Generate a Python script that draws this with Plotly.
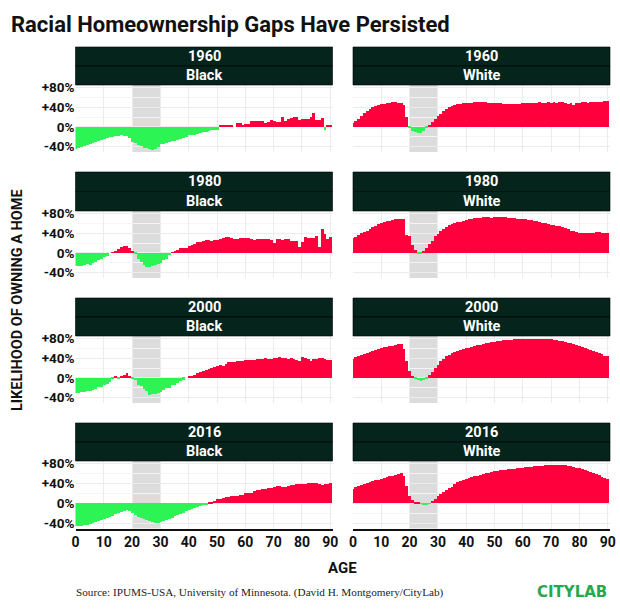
import plotly.graph_objects as go

W, H = 620, 611

ages = list(range(0, 91))
years = ["1960", "1980", "2000", "2016"]
races = ["Black", "White"]
x_ticks = [0, 10, 20, 30, 40, 50, 60, 70, 80, 90]
y_ticks = [-40, 0, 40, 80]
y_labels = ["-40%", "0%", "+40%", "+80%"]
band = [20, 30]

black_1960 = [-44, -42, -41, -38, -36, -35, -33, -30, -29, -27,
              -25, -23, -21, -20, -19, -18, -17, -18, -19, -22,
              -31, -33, -37, -39, -42, -43, -45, -46, -45, -41,
              -35, -34, -32, -31, -29, -28, -27, -25, -22, -20,
              -17, -16, -16, -14, -13, -11, -11, -8, -6, -7,
              -6, 3, 2, 3, 3, 4, 0, 7, 7, 4,
              5, 5, 12, 12, 12, 12, 12, 8, 9, 14,
              12, 10, 10, 20, 11, 15, 19, 20, 20, 14,
              15, 17, 15, 21, 28, 14, 14, 18, -6, 4, 4]
white_1960 = [7, 12, 16, 22, 28, 33, 37, 40, 43, 45,
              46, 47, 48, 49, 50, 50, 49, 48, 45, 20,
              -2, -8, -11, -13, -12, -8, -2, 4, 10, 17,
              22, 27, 32, 37, 40, 43, 45, 46, 47, 48,
              48, 49, 49, 50, 50, 50, 50, 50, 49, 49,
              49, 48, 48, 47, 47, 47, 47, 46, 47, 47,
              48, 48, 48, 49, 49, 48, 50, 49, 49, 50,
              49, 50, 49, 50, 50, 49, 47, 48, 45, 49,
              49, 50, 50, 49, 50, 51, 51, 50, 51, 52, 52]
black_1980 = [-27, -27, -26, -24, -22, -24, -21, -19, -15, -12,
              -9, -6, 0, 1, 4, 8, 12, 13, 14, 9,
              2, -3, -12, -18, -24, -28, -28, -26, -25, -22,
              -20, -14, -12, -5, 1, 2, 5, 10, 9, 9,
              13, 16, 18, 23, 23, 25, 26, 26, 25, 27,
              26, 28, 31, 32, 32, 30, 28, 29, 30, 31,
              30, 30, 29, 27, 28, 29, 29, 28, 28, 26,
              21, 29, 28, 27, 28, 29, 25, 24, 24, 12,
              22, 33, 31, 31, 31, 35, 12, 48, 38, 28, 33]
white_1980 = [30, 33, 36, 40, 43, 45, 49, 52, 55, 58,
              61, 62, 64, 65, 67, 68, 69, 69, 68, 36,
              35, 17, 5, -1, -1, 3, 10, 19, 24, 35,
              38, 44, 49, 53, 56, 58, 60, 62, 63, 65,
              66, 68, 69, 70, 70, 71, 72, 72, 72, 71,
              72, 72, 72, 73, 72, 71, 70, 70, 69, 69,
              69, 68, 67, 66, 65, 64, 62, 61, 60, 59,
              57, 56, 55, 54, 52, 50, 48, 45, 44, 42,
              41, 41, 40, 41, 41, 41, 42, 42, 41, 40, 40]
black_2000 = [-30, -30, -29, -28, -27, -26, -24, -22, -19, -18,
              -15, -13, -8, -2, 2, -1, 3, 6, 9, 2,
              -1, -5, -14, -17, -23, -27, -34, -33, -32, -30,
              -28, -24, -21, -20, -15, -14, -10, -7, -4, 0,
              2, 3, 5, 9, 11, 14, 16, 19, 21, 22,
              25, 26, 25, 28, 33, 32, 32, 34, 35, 35,
              36, 36, 37, 37, 38, 39, 39, 40, 39, 39,
              40, 40, 43, 41, 40, 39, 40, 39, 36, 35,
              43, 40, 38, 35, 38, 38, 40, 40, 39, 36, 36]
white_2000 = [39, 42, 45, 47, 49, 51, 53, 55, 57, 58,
              60, 62, 63, 64, 65, 67, 68, 69, 58, 34,
              14, 2, -2, -5, -6, -5, -3, 5, 12, 20,
              27, 34, 39, 44, 47, 50, 53, 55, 56, 58,
              60, 61, 63, 65, 66, 67, 68, 70, 71, 72,
              73, 74, 75, 76, 76, 77, 77, 78, 78, 78,
              78, 78, 78, 78, 78, 78, 78, 78, 78, 78,
              78, 77, 76, 75, 74, 73, 71, 70, 69, 67,
              65, 63, 61, 59, 57, 55, 53, 50, 48, 45, 44]
black_2016 = [-46, -46, -45, -44, -43, -41, -39, -38, -36, -34,
              -32, -30, -28, -25, -22, -20, -18, -16, -14, -16,
              -20, -23, -27, -30, -32, -34, -36, -38, -40, -39,
              -38, -35, -34, -31, -29, -26, -24, -22, -20, -16,
              -14, -12, -10, -8, -6, -4, -2, 1, 3, 5,
              8, 9, 10, 12, 13, 14, 15, 15, 16, 17,
              20, 20, 21, 24, 26, 27, 28, 28, 30, 31,
              32, 35, 35, 33, 33, 34, 36, 37, 38, 38,
              39, 39, 40, 40, 41, 40, 38, 36, 38, 38, 40]
white_2016 = [29, 33, 35, 37, 38, 40, 42, 44, 46, 47,
              49, 51, 52, 54, 55, 57, 59, 60, 55, 34,
              15, 6, 3, 1, -1, -3, -4, -1, 5, 9,
              14, 19, 23, 27, 30, 33, 38, 42, 44, 46,
              48, 50, 52, 54, 55, 57, 59, 60, 61, 62,
              64, 65, 66, 66, 67, 68, 69, 69, 70, 70,
              71, 72, 72, 73, 74, 74, 75, 75, 76, 76,
              76, 76, 76, 76, 76, 76, 75, 74, 72, 71,
              70, 69, 67, 65, 63, 61, 59, 56, 53, 50, 48]

panels = [black_1960, white_1960, black_1980, white_1980,
          black_2000, white_2000, black_2016, white_2016]

RED = "#ff003c"
GREEN = "#2cf455"
STRIP = "#04241c"
FONT = "Roboto"

# pixel rows of the panels, top of strip / top of plot / bottom of plot
rows = [(47, 85, 152), (172, 211, 278), (298, 336, 403), (423, 461, 528.5)]
cols = [(75.5, 332.5), (353, 610)]

fig = go.Figure()
shapes = []
annotations = []

for r, (s_top, p_top, p_bot) in enumerate(rows):
    for c, (left, right) in enumerate(cols):
        n = r * 2 + c + 1
        sfx = "" if n == 1 else str(n)
        values = panels[r * 2 + c]
        fig.add_trace(go.Bar(
            x=ages, y=values, width=1,
            marker=dict(color=[RED if v >= 0 else GREEN for v in values], line_width=0),
            xaxis=f"x{sfx}", yaxis=f"y{sfx}", showlegend=False,
        ))
        bottom_row = r == len(rows) - 1
        fig.update_layout({
            f"xaxis{sfx}": dict(
                domain=[left / W, right / W], range=[0, 90.8], anchor=f"y{sfx}",
                automargin=False,
                tickvals=x_ticks, showticklabels=bottom_row, ticks="",
                gridcolor="#ececec", gridwidth=1, zeroline=False,
                showline=bottom_row, linecolor="#111111", linewidth=2,
                tickfont=dict(family=FONT, size=14, color="#111111", weight="bold"),
            ),
            f"yaxis{sfx}": dict(
                domain=[1 - p_bot / H, 1 - p_top / H], range=[-51, 85], anchor=f"x{sfx}",
                automargin=False,
                tickvals=y_ticks, ticktext=y_labels, showticklabels=c == 0, ticks="",
                gridcolor="#ececec", gridwidth=1, zeroline=False,
                minor=dict(dtick=20, showgrid=True, gridcolor="#f5f5f5", gridwidth=1),
                tickfont=dict(family=FONT, size=13.5, color="#111111", weight="bold"),
            ),
        })
        shapes.append(dict(type="rect", xref=f"x{sfx}", yref=f"y{sfx} domain",
                           x0=band[0], x1=band[1], y0=0, y1=1,
                           fillcolor="#dcdcdc", line_width=0, layer="below"))
        # two stacked header strips, year over race
        mid = (s_top + p_top) / 2
        for top, bot, label in [(s_top, mid, years[r]), (mid, p_top, races[c])]:
            shapes.append(dict(type="rect", xref="paper", yref="paper",
                               x0=left / W, x1=right / W, y0=1 - bot / H, y1=1 - top / H,
                               fillcolor=STRIP, line=dict(color="#000000", width=0.6)))
            annotations.append(dict(
                text=label, xref="paper", yref="paper", showarrow=False,
                x=(left + right) / 2 / W, y=1 - (top + bot) / 2 / H,
                xanchor="center", yanchor="middle",
                font=dict(family=FONT, size=14.5, color="#ffffff", weight="bold"),
            ))

annotations += [
    dict(text="Racial Homeownership Gaps Have Persisted", xref="paper", yref="paper", showarrow=False,
         x=9 / W, y=1 - 24 / H, xanchor="left", yanchor="middle",
         font=dict(family=FONT, size=22, color="#111111", weight="bold")),
    dict(text="LIKELIHOOD OF OWNING A HOME", xref="paper", yref="paper", showarrow=False, textangle=-90,
         x=17 / W, y=1 - 300 / H, xanchor="center", yanchor="middle",
         font=dict(family=FONT, size=14.5, color="#111111", weight="bold")),
    dict(text="AGE", xref="paper", yref="paper", showarrow=False,
         x=342 / W, y=1 - 568 / H, xanchor="center", yanchor="middle",
         font=dict(family=FONT, size=15, color="#111111", weight="bold")),
    dict(text="Source: IPUMS-USA, University of Minnesota. (David H. Montgomery/CityLab)",
         xref="paper", yref="paper", showarrow=False,
         x=74 / W, y=1 - 592 / H, xanchor="left", yanchor="middle",
         font=dict(family="Liberation Serif", size=11.2, color="#222222")),
    dict(text="CITYLAB", xref="paper", yref="paper", showarrow=False,
         x=609 / W, y=1 - 592 / H, xanchor="right", yanchor="middle",
         font=dict(family="DejaVu Sans", size=15, color="#27a84f", weight="bold")),
]

fig.update_layout(
    width=W, height=H,
    margin=dict(l=0, r=0, t=0, b=0),
    paper_bgcolor="#ffffff", plot_bgcolor="#ffffff",
    bargap=0,
    shapes=shapes,
    annotations=annotations,
)

fig.write_html("out.html", config={"displayModeBar": False},
               post_script="document.body.style.margin = '0';")
